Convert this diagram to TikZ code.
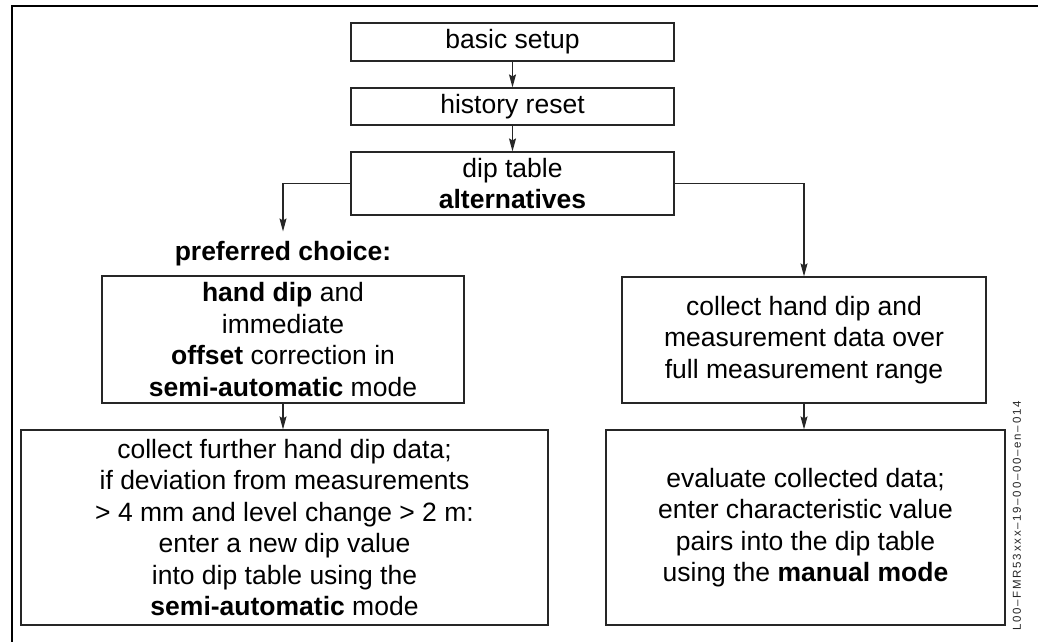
\documentclass[tikz,border=0pt]{standalone}
\usepackage{fontspec}
\setmainfont{Liberation Sans}
\newfontfamily\codefont[LetterSpace=15]{Liberation Sans}
\usetikzlibrary{arrows.meta}

\begin{document}
\begin{tikzpicture}[x=1pt, y=-1pt,
    box/.style={rectangle, draw=black!85, line width=1.2pt, inner sep=0pt, align=center,
      font=\fontsize{26.5}{31.5}\selectfont},
    flow/.style={->, draw=black!85, line width=1.2pt},
    >={Stealth[length=13pt, width=7pt, inset=2pt]}]
    \useasboundingbox (0,0) rectangle (1038,642);
    \draw [line width=2pt] (12,642) -- (12,6) -- (1038,6);

    \node (setup) [box, minimum width=323pt, minimum height=38pt] at (512.5,42) {basic setup};
    \node (reset) [box, minimum width=323pt, minimum height=37pt] at (512.5,106.5) {history reset};
    \node (dip) [box, minimum width=323pt, minimum height=63pt] at (512.5,183.5) {dip table\\\textbf{alternatives}};
    \node (pref) [inner sep=10pt, font=\fontsize{26.5}{31.5}\selectfont\bfseries] at (283,254) {preferred choice:};
    \node (hand) [box, minimum width=362pt, minimum height=127pt] at (283,339.5)
        {\textbf{hand dip} and\\immediate\\\textbf{offset} correction in\\\textbf{semi-automatic} mode};
    \node (further) [box, minimum width=527pt, minimum height=195pt] at (284.5,527.5)
        {collect further hand dip data;\\if deviation from measurements\\> 4 mm and level change > 2 m:\\enter a new dip value\\into dip table using the\\\textbf{semi-automatic} mode};
    \node (coll) [box, minimum width=364pt, minimum height=126pt] at (804,340)
        {collect hand dip and\\measurement data over\\full measurement range};
    \node (eval) [box, minimum width=399pt, minimum height=195pt] at (805.5,527.5)
        {evaluate collected data;\\enter characteristic value\\pairs into the dip table\\using the \textbf{manual mode}};
    \node (code) [rotate=90, text=black!85, font=\codefont\fontsize{11.5}{12}\selectfont] at (1017,516) {L00–FMR53xxx–19–00–00–en–014};

    \draw [flow] (setup) -- (reset);
    \draw [flow] (reset) -- (dip);
    \draw [flow] (dip.west) -| (pref.north);
    \draw [flow] (dip.east) -| (coll.north);
    \draw [flow] (hand) -- (hand |- further.north);
    \draw [flow] (coll) -- (coll |- eval.north);
\end{tikzpicture}
\end{document}
